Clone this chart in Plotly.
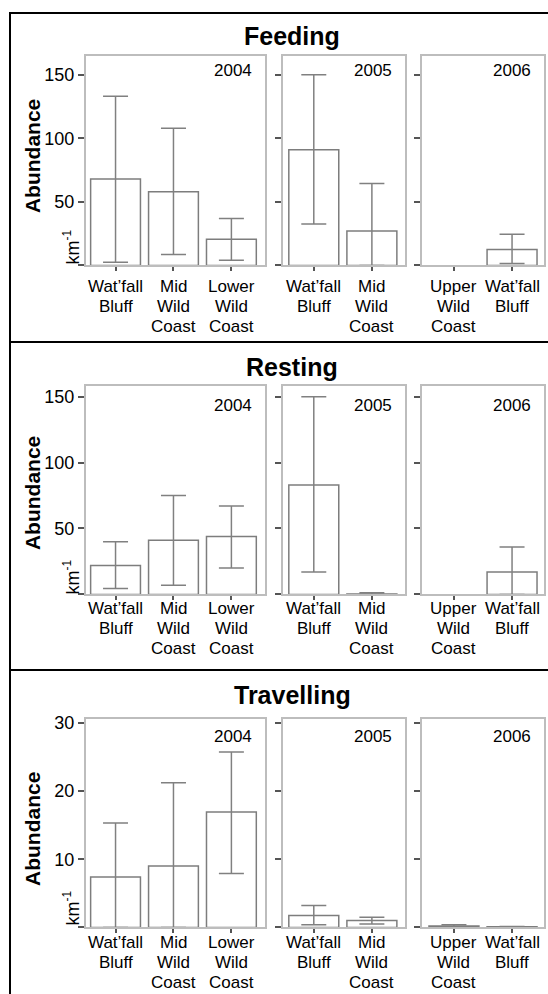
import plotly.graph_objects as go
from plotly.subplots import make_subplots

W, H = 548, 994

# ---------------- data ----------------
behaviours = ["Feeding", "Resting", "Travelling"]
years = ["2004", "2005", "2006"]

cats_2004 = ["Wat’fall<br>Bluff", "Mid<br>Wild<br>Coast", "Lower<br>Wild<br>Coast"]
cats_2005 = ["Wat’fall<br>Bluff", "Mid<br>Wild<br>Coast"]
cats_2006 = ["Upper<br>Wild<br>Coast", "Wat’fall<br>Bluff"]
year_cats = [cats_2004, cats_2005, cats_2006]

# mean abundance per km, and upper / lower limits of the error bars
feeding_mean = [[68, 58, 20.5], [91, 27], [None, 12.5]]
feeding_high = [[133, 108, 37], [150, 64.5], [None, 24.5]]
feeding_low = [[2.5, 8.5, 4], [32.5, 0], [None, 1.5]]

resting_mean = [[22, 41, 44], [83, 0.4], [None, 17]]
resting_high = [[40, 75, 67], [150, 1.2], [None, 36]]
resting_low = [[4.5, 7, 20], [17, 0], [None, 0]]

travelling_mean = [[7.4, 9.0, 16.9], [1.75, 1.0], [0.2, 0.1]]
travelling_high = [[15.3, 21.2, 25.7], [3.2, 1.5], [0.4, 0.15]]
travelling_low = [[0, 0, 7.9], [0.4, 0.5], [0.05, 0.05]]

means = [feeding_mean, resting_mean, travelling_mean]
highs = [feeding_high, resting_high, travelling_high]
lows = [feeding_low, resting_low, travelling_low]

y_max = [165, 158.3, 30.6]
y_tickvals = [[50, 100, 150], [50, 100, 150], [10, 20, 30]]
y_ticktext = [["50", "100", "150"], ["50", "100", "150"], ["10", "20", "30"]]

# ---------------- layout geometry (pixels) ----------------
col_px = [(86, 265), (283, 405), (422, 544)]
row_px = [(50, 261), (382, 592), (717, 927)]
x_ranges = [[-0.51, 2.58], [-0.53, 1.57], [-0.55, 1.55]]
label_offset = [21, 14, 15]      # first x-label line below box bottom
title_y = [30, 363, 693]
abund_y = [151, 490, 828]
km_y = [243, 575, 908]
year_shift = [(-11, -3), (-11, -8), (-11, -6)]

def px_x(x):
    return x / W

def px_y(y):
    return 1 - y / H

FONT = "Liberation Sans, Arial, sans-serif"
BOX = "#bdbdbd"
BAR_LINE = "#7d7d7d"
ERR = "#808080"
TICK = "#555555"

fig = make_subplots(rows=3, cols=3)

annotations = []
for r in range(3):
    for c in range(3):
        idx = r * 3 + c + 1
        sfx = "" if idx == 1 else str(idx)
        cats = year_cats[c]
        m = means[r][c]
        hi = highs[r][c]
        lo = lows[r][c]
        plus = [None if v is None else h - v for v, h in zip(m, hi)]
        minus = [None if v is None else v - l for v, l in zip(m, lo)]
        fig.add_trace(
            go.Bar(
                x=list(range(len(cats))),
                y=m,
                marker=dict(color="white", line=dict(color=BAR_LINE, width=1.5)),
                error_y=dict(
                    type="data",
                    array=plus,
                    arrayminus=minus,
                    symmetric=False,
                    color=ERR,
                    thickness=1.5,
                    width=12.5,
                ),
                showlegend=False,
            ),
            row=r + 1,
            col=c + 1,
        )
        x0, x1 = col_px[c]
        y0, y1 = row_px[r]
        fig.layout["xaxis" + sfx].update(
            domain=[px_x(x0), px_x(x1)],
            range=x_ranges[c],
            tickmode="array",
            tickvals=list(range(len(cats))),
            showticklabels=False,
            ticks="outside",
            ticklen=4,
            tickwidth=1.5,
            tickcolor=TICK,
            showline=True,
            mirror=True,
            linecolor=BOX,
            linewidth=2,
            showgrid=False,
            zeroline=False,
            fixedrange=True,
        )
        fig.layout["yaxis" + sfx].update(
            domain=[px_y(y1), px_y(y0)],
            range=[0, y_max[r]],
            tickmode="array",
            tickvals=y_tickvals[r],
            ticktext=y_ticktext[r],
            showticklabels=(c == 0),
            ticks="outside",
            ticklen=6,
            tickwidth=1.5,
            tickcolor=TICK,
            tickfont=dict(family=FONT, size=18, color="black"),
            minor=dict(tickmode="array", tickvals=[0], ticks="outside",
                       ticklen=6, tickwidth=1.5, tickcolor=TICK, showgrid=False),
            showline=True,
            mirror=True,
            linecolor=BOX,
            linewidth=2,
            showgrid=False,
            zeroline=False,
            fixedrange=True,
        )
        # category labels, one line each
        for i, lab in enumerate(cats):
            for j, line in enumerate(lab.split("<br>")):
                annotations.append(dict(
                    x=i, xref="x" + sfx,
                    y=0, yref="y" + sfx + " domain",
                    yshift=-(label_offset[r] + 20 * j),
                    yanchor="middle", xanchor="center",
                    text=line, showarrow=False,
                    font=dict(family=FONT, size=17, color="black"),
                ))
        # year label
        annotations.append(dict(
            x=1, xref="x" + sfx + " domain",
            y=1, yref="y" + sfx + " domain",
            xshift=year_shift[r][0], yshift=year_shift[r][1],
            xanchor="right", yanchor="top",
            text=years[c], showarrow=False,
            font=dict(family=FONT, size=17, color="black"),
        ))

    # behaviour title
    annotations.append(dict(
        x=px_x(292), xref="paper", y=px_y(title_y[r]), yref="paper",
        xanchor="center", yanchor="middle",
        text="<b>" + behaviours[r] + "</b>", showarrow=False,
        font=dict(family=FONT, size=25, color="black"),
    ))
    # y axis titles
    annotations.append(dict(
        x=px_x(32), xref="paper", y=px_y(abund_y[r]), yref="paper",
        xanchor="center", yanchor="middle", textangle=-90,
        text="<b>Abundance</b>", showarrow=False,
        font=dict(family=FONT, size=21, color="black"),
    ))
    annotations.append(dict(
        x=px_x(73), xref="paper", y=px_y(km_y[r] + 5), yref="paper",
        xanchor="center", yanchor="middle", textangle=-90,
        text="km", showarrow=False,
        font=dict(family=FONT, size=18, color="black"),
    ))
    annotations.append(dict(
        x=px_x(67), xref="paper", y=px_y(km_y[r] - 12), yref="paper",
        xanchor="center", yanchor="middle", textangle=-90,
        text="-1", showarrow=False,
        font=dict(family=FONT, size=12, color="black"),
    ))

# frame lines
shapes = []
frame = dict(type="line", xref="paper", yref="paper", line=dict(color="black", width=2))
shapes.append(dict(frame, x0=px_x(10), x1=1, y0=px_y(7), y1=px_y(7)))
shapes.append(dict(frame, x0=px_x(10), x1=px_x(10), y0=px_y(6), y1=px_y(994)))
shapes.append(dict(frame, x0=px_x(10), x1=1, y0=px_y(338), y1=px_y(338)))
shapes.append(dict(frame, x0=px_x(10), x1=1, y0=px_y(668), y1=px_y(668)))

fig.update_layout(
    width=W,
    height=H,
    margin=dict(l=0, r=0, t=0, b=0),
    paper_bgcolor="white",
    plot_bgcolor="white",
    bargap=0.14,
    annotations=annotations,
    shapes=shapes,
    font=dict(family=FONT, color="black"),
)

fig.write_html("out.html", config={"displayModeBar": False})
